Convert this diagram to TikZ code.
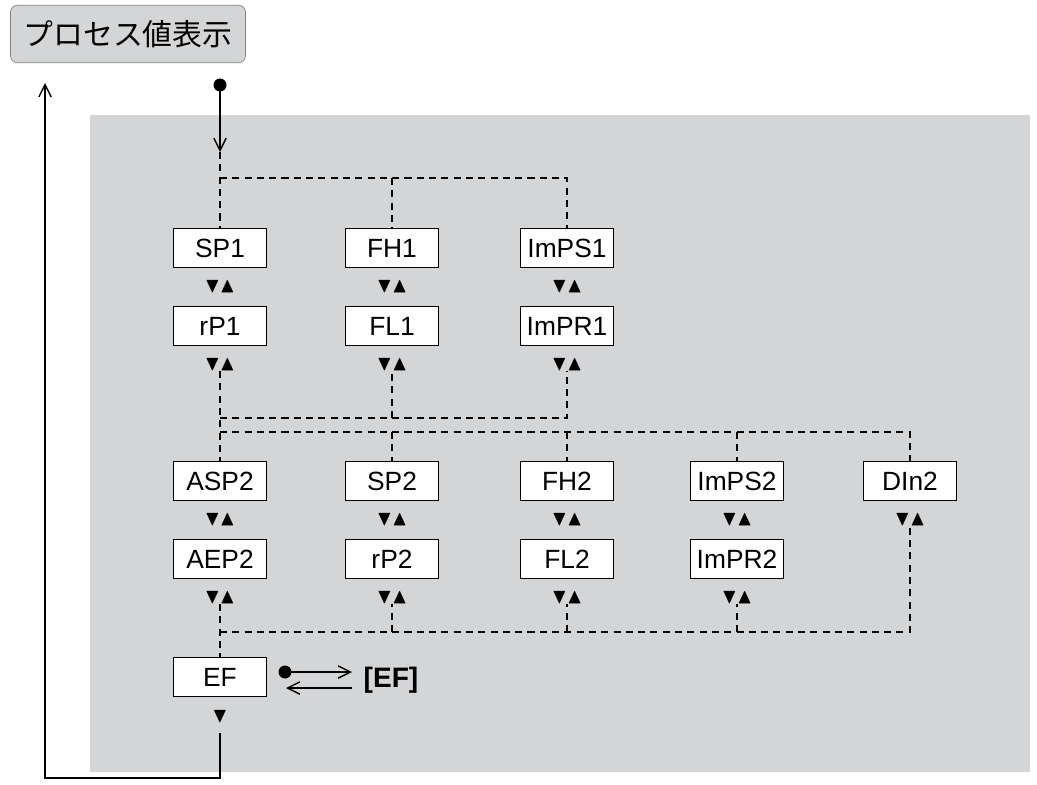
\documentclass[tikz,border=0pt]{standalone}
\usepackage{fontspec}
\usepackage{amssymb}
\usetikzlibrary{arrows.meta}
\setmainfont{Liberation Sans}
\newfontfamily\cjk{Noto Sans CJK JP}
\definecolor{panel}{HTML}{D4D5D7}
\begin{document}
\begin{tikzpicture}[x=0.02cm,y=-0.02cm,>={Straight Barb[length=7pt,width=7pt]}]
    \tikzstyle{every node}=[font=\fontsize{15}{17}\selectfont]
    \tikzstyle{param}=[draw,thick,fill=white,minimum width=1.85cm,minimum height=0.78cm,inner sep=0pt]
    \tikzstyle{tri}=[inner sep=0pt,font=\fontsize{12}{13}\selectfont]
    \tikzstyle{link}=[thick,dash pattern=on 4pt off 3pt]
    \useasboundingbox (0,0) rectangle (1037,784);
    \fill[panel] (90,115) rectangle (1030,772);
    \draw (128,34) node[draw=gray,fill=panel,rounded corners=4pt,minimum width=4.7cm,minimum height=1.15cm,font=\cjk\fontsize{17}{19}\selectfont] (pv) {プロセス値表示};
    %%%%% first group
    \draw (220,248) node[param] (sp1) {SP1};
    \draw (392,248) node[param] (fh1) {FH1};
    \draw (567,248) node[param] (imps1) {ImPS1};
    \draw (220,326) node[param] (rp1) {rP1};
    \draw (392,326) node[param] (fl1) {FL1};
    \draw (567,326) node[param] (impr1) {ImPR1};
    %%%%% second group
    \draw (220,481) node[param] (asp2) {ASP2};
    \draw (392,481) node[param] (sp2) {SP2};
    \draw (567,481) node[param] (fh2) {FH2};
    \draw (737,481) node[param] (imps2) {ImPS2};
    \draw (910,481) node[param] (din2) {DIn2};
    \draw (220,559) node[param] (aep2) {AEP2};
    \draw (392,559) node[param] (rp2) {rP2};
    \draw (567,559) node[param] (fl2) {FL2};
    \draw (737,559) node[param] (impr2) {ImPR2};
    \draw (220,677) node[param] (ef) {EF};
    %%%%% up/down marks
    \foreach \x/\n in {220/a,392/b,567/c}{
        \draw (\x,287) node[tri] (t1\n) {$\blacktriangledown\blacktriangle$};
        \draw (\x,365) node[tri] (t2\n) {$\blacktriangledown\blacktriangle$};
    }
    \foreach \x/\n in {220/a,392/b,567/c,737/d,910/e}{
        \draw (\x,520) node[tri] (t3\n) {$\blacktriangledown\blacktriangle$};
    }
    \foreach \x/\n in {220/a,392/b,567/c,737/d}{
        \draw (\x,598) node[tri] (t4\n) {$\blacktriangledown\blacktriangle$};
    }
    \draw (220,717) node[tri] (tend) {$\blacktriangledown$};
    %%%%% entry
    \coordinate (start) at (220,85);
    \fill (start) circle (6.5);
    \coordinate (entry) at (220,152);
    \draw[thick,->] (start) -- (entry);
    \coordinate (j0) at (220,178);
    \coordinate (j0r) at (567,178);
    \draw[link] (entry) -- (sp1);
    \draw[link] (j0) -- (j0r) -- (imps1);
    \draw[link] (392,178) -- (fh1);
    %%%%% first to second
    \coordinate (j1) at (220,418);
    \coordinate (j1r) at (567,418);
    \coordinate (j2) at (220,432);
    \coordinate (j2r) at (910,432);
    \draw[link] (t2a) -- (asp2);
    \draw[link] (j1) -- (j1r) -- (t2c);
    \draw[link] (392,418) -- (t2b);
    \draw[link] (j2) -- (j2r) -- (din2);
    \draw[link] (392,432) -- (sp2);
    \draw[link] (567,432) -- (fh2);
    \draw[link] (737,432) -- (imps2);
    %%%%% second to EF
    \coordinate (j3) at (220,632);
    \coordinate (j3r) at (910,632);
    \draw[link] (t4a) -- (ef);
    \draw[link] (j3) -- (j3r) -- (t3e);
    \draw[link] (392,632) -- (t4b);
    \draw[link] (567,632) -- (t4c);
    \draw[link] (737,632) -- (t4d);
    %%%%% EF branch
    \coordinate (ea) at (285,672);
    \coordinate (eb) at (352,672);
    \coordinate (ec) at (352,688);
    \coordinate (ed) at (286,688);
    \fill (ea) circle (6.5);
    \draw[thick,->] (ea) -- (eb);
    \draw[thick,->] (ec) -- (ed);
    \draw (391,680) node[font=\bfseries\fontsize{16}{18}\selectfont] (efl) {[EF]};
    %%%%% return
    \coordinate (r1) at (220,733);
    \coordinate (r2) at (45,83);
    \draw[thick,->] (r1) |- (45,778) -- (r2);
\end{tikzpicture}
\end{document}
